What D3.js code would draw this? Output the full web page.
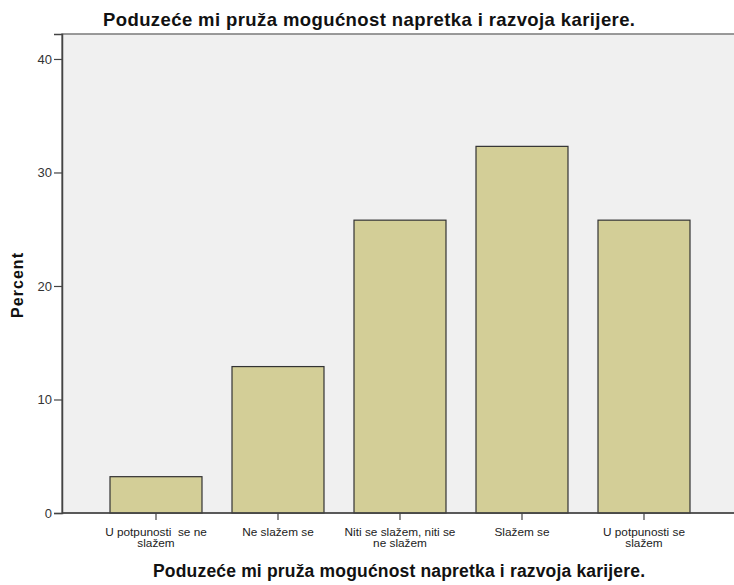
<!DOCTYPE html>
<html>
<head>
<meta charset="utf-8">
<script src="https://cdnjs.cloudflare.com/ajax/libs/d3/7.8.5/d3.min.js"></script>
<style>
  body { margin: 0; background: #fff; }
  text { font-family: "Liberation Sans", Arial, sans-serif; }
</style>
</head>
<body>
<div id="chart"></div>
<script>
// data
var categories = ["U potpunosti  se ne|slažem", "Ne slažem se", "Niti se slažem, niti se|ne slažem", "Slažem se", "U potpunosti se|slažem"];
var percents = [3.2, 12.9, 25.8, 32.3, 25.8];
var yTicks = [0, 10, 20, 30, 40];
var titleText = "Poduzeće mi pruža mogućnost napretka i razvoja karijere.";

var svgWidth = 734;
var svgHeight = 585;

var plot = { left: 62, top: 34, right: 734, bottom: 513 };

var svg = d3.select("#chart")
  .append("svg")
  .attr("width", svgWidth)
  .attr("height", svgHeight);

// scales
var x = d3.scaleBand()
  .domain(categories)
  .range([95, 705])
  .paddingInner(0.246)
  .paddingOuter(0.123);

var y = d3.scaleLinear()
  .domain([0, 42.2])
  .range([plot.bottom, plot.top]);

// plot background
svg.append("rect")
  .attr("x", plot.left)
  .attr("y", plot.top)
  .attr("width", plot.right - plot.left + 2)
  .attr("height", plot.bottom - plot.top)
  .attr("fill", "#f0f0f0")
  .attr("stroke", "#7a7a7a")
  .attr("stroke-width", 1.5);

// bars
svg.selectAll("rect.bar")
  .data(percents)
  .enter()
  .append("rect")
  .attr("class", "bar")
  .attr("x", (d, i) => x(categories[i]))
  .attr("y", d => y(d))
  .attr("width", x.bandwidth())
  .attr("height", d => y(0) - y(d))
  .attr("fill", "#d3ce97")
  .attr("stroke", "#333")
  .attr("stroke-width", 1.2);

// y axis
var leftAxis = d3.axisLeft(y).tickValues(yTicks).tickSize(8).tickPadding(2);
var yAxis = svg.append("g")
  .attr("transform", `translate(${plot.left}, 0)`)
  .call(leftAxis);
yAxis.select(".domain").attr("stroke", "#444").attr("stroke-width", 1.5);
yAxis.selectAll(".tick line").attr("stroke", "#444").attr("stroke-width", 1.2);
yAxis.selectAll(".tick text")
  .attr("font-size", 13)
  .attr("fill", "#333")
  .style("font-family", "'Liberation Sans', Arial, sans-serif");

// x axis line + ticks
var bottomAxis = d3.axisBottom(x).tickSize(7).tickFormat("");
var xAxis = svg.append("g")
  .attr("transform", `translate(0, ${plot.bottom})`)
  .call(bottomAxis);
xAxis.select(".domain").remove();
xAxis.selectAll(".tick line").attr("stroke", "#444").attr("stroke-width", 1.2);
svg.append("line")
  .attr("x1", plot.left).attr("x2", plot.right)
  .attr("y1", plot.bottom).attr("y2", plot.bottom)
  .attr("stroke", "#444").attr("stroke-width", 1.5);

// category labels, two lines
categories.forEach(function(c) {
  var lines = c.split("|");
  var t = svg.append("text")
    .attr("x", x(c) + x.bandwidth() / 2)
    .attr("y", 535.5)
    .attr("text-anchor", "middle")
    .attr("font-size", 11.8)
    .attr("fill", "#222")
    .style("white-space", "pre");
  lines.forEach(function(l, i) {
    t.append("tspan")
      .attr("x", x(c) + x.bandwidth() / 2)
      .attr("dy", i === 0 ? 0 : 11)
      .text(l);
  });
});

// title
svg.append("text")
  .attr("x", 369)
  .attr("y", 26)
  .attr("text-anchor", "middle")
  .attr("font-size", 18.5)
  .attr("font-weight", "bold")
  .attr("fill", "#111")
  .attr("textLength", 532)
  .attr("lengthAdjust", "spacing")
  .text(titleText);

// x axis title
svg.append("text")
  .attr("x", 399)
  .attr("y", 577)
  .attr("text-anchor", "middle")
  .attr("font-size", 17.5)
  .attr("font-weight", "bold")
  .attr("fill", "#111")
  .attr("textLength", 492)
  .attr("lengthAdjust", "spacing")
  .text(titleText);

// y axis title
svg.append("text")
  .attr("transform", "rotate(-90)")
  .attr("x", -285.5)
  .attr("y", 23)
  .attr("text-anchor", "middle")
  .attr("font-size", 16)
  .attr("font-weight", "bold")
  .attr("fill", "#111")
  .attr("textLength", 65)
  .attr("lengthAdjust", "spacing")
  .text("Percent");
</script>
</body>
</html>
